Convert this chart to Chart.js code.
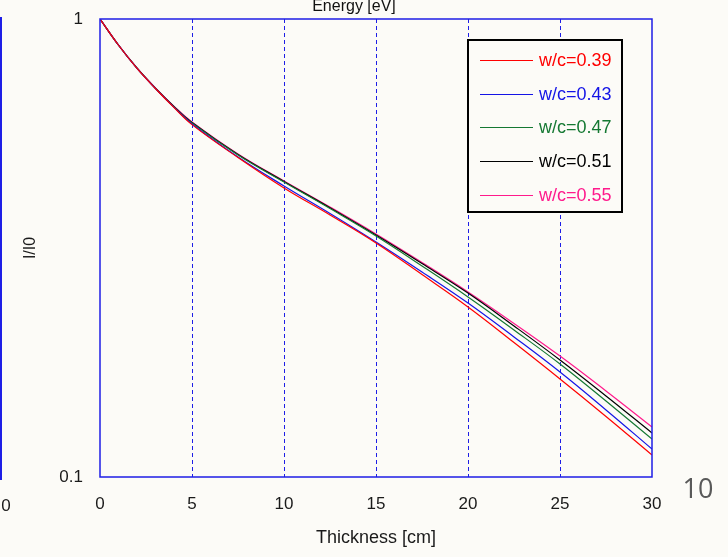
<!DOCTYPE html>
<html>
<head>
<meta charset="utf-8">
<script src="https://cdn.jsdelivr.net/npm/chart.js@4.4.1/dist/chart.umd.min.js"></script>
<style>
html,body{margin:0;padding:0;background:#fcfbf7;}
canvas{display:block;}
</style>
</head>
<body>
<canvas id="myChart" width="728" height="557"></canvas>
<script>
// thickness [cm] and transmitted fraction I/I0 for each w/c ratio
var thickness = [0, 1, 2, 3, 4, 5, 7.5, 10, 12.5, 15, 17.5, 20, 22.5, 25, 27.5, 30];
var wc039 = [1, 0.8775, 0.781, 0.706, 0.642, 0.588, 0.4984, 0.4276, 0.3733, 0.3243, 0.2767, 0.2351, 0.1966, 0.1637, 0.1356, 0.1117];
var wc043 = [1, 0.8775, 0.781, 0.706, 0.643, 0.590, 0.4997, 0.4319, 0.3761, 0.3259, 0.2803, 0.2398, 0.2022, 0.1695, 0.1401, 0.1151];
var wc047 = [1, 0.8775, 0.782, 0.707, 0.644, 0.5928, 0.5048, 0.4407, 0.3856, 0.3359, 0.2889, 0.2472, 0.2094, 0.1765, 0.1465, 0.1211];
var wc051 = [1, 0.8775, 0.782, 0.707, 0.645, 0.5943, 0.5060, 0.4418, 0.3871, 0.3376, 0.2925, 0.2522, 0.2137, 0.1801, 0.1503, 0.1248];
var wc055 = [1, 0.878, 0.783, 0.708, 0.646, 0.5958, 0.5072, 0.4429, 0.3886, 0.3393, 0.2940, 0.2535, 0.2164, 0.1837, 0.1541, 0.1286];

var seriesLabels = ['w/c=0.39', 'w/c=0.43', 'w/c=0.47', 'w/c=0.51', 'w/c=0.55'];
var seriesValues = [wc039, wc043, wc047, wc051, wc055];
var seriesColors = ['#ff0000', '#1414e6', '#147832', '#000000', '#ff1a8c'];

var xTickValues = [0, 5, 10, 15, 20, 25, 30];
var yTickValues = [0.1, 1];

var topTitle = 'Energy [eV]';
var xTitle = 'Thickness [cm]';
var yTitle = 'I/I0';

var FONT = '"Liberation Sans", Arial, sans-serif';
var gridBlue = '#1e1ee6';

var datasets = [];
for (var i = 0; i < seriesLabels.length; i++) {
  var pts = [];
  for (var j = 0; j < thickness.length; j++) {
    pts.push({x: thickness[j], y: seriesValues[i][j]});
  }
  datasets.push({
    label: seriesLabels[i],
    data: pts,
    borderColor: seriesColors[i],
    borderWidth: 1.2,
    pointRadius: 0,
    fill: false,
    tension: 0.4
  });
}

// frame, legend box, cut-off title and the bits of the neighbouring slides
var extras = {
  id: 'extras',
  afterDatasetsDraw: function(chart) {
    var ctx = chart.ctx;
    var a = chart.chartArea;
    ctx.save();
    ctx.strokeStyle = gridBlue;
    ctx.lineWidth = 1.5;
    ctx.strokeRect(a.left, a.top, a.right - a.left, a.bottom - a.top);

    // legend
    var bx = 468, by = 40, bw = 154, bh = 172;
    ctx.fillStyle = '#fcfbf7';
    ctx.fillRect(bx, by, bw, bh);
    ctx.strokeStyle = '#000';
    ctx.lineWidth = 2;
    ctx.strokeRect(bx, by, bw, bh);
    ctx.font = '18px ' + FONT;
    ctx.textBaseline = 'middle';
    ctx.textAlign = 'left';
    var rows = [60, 94, 127, 161, 195];
    chart.data.datasets.forEach(function(ds, k) {
      ctx.strokeStyle = ds.borderColor;
      ctx.lineWidth = 1;
      ctx.beginPath();
      ctx.moveTo(480, rows[k] + 0.5);
      ctx.lineTo(533, rows[k] + 0.5);
      ctx.stroke();
      ctx.fillStyle = ds.borderColor;
      ctx.fillText(ds.label, 539, rows[k] + 1);
    });

    // title cut at the top of the picture
    ctx.fillStyle = '#111';
    ctx.font = '16px ' + FONT;
    ctx.textAlign = 'center';
    ctx.textBaseline = 'alphabetic';
    ctx.fillText(topTitle, 354, 11);

    // left neighbour
    ctx.strokeStyle = gridBlue;
    ctx.lineWidth = 2;
    ctx.beginPath();
    ctx.moveTo(1, 17);
    ctx.lineTo(1, 480);
    ctx.stroke();
    ctx.fillStyle = '#1a1a1a';
    ctx.font = '17px ' + FONT;
    ctx.textBaseline = 'middle';
    ctx.fillText('0', 6, 506);

    // page number on the right
    ctx.fillStyle = '#595959';
    ctx.font = '27px "Open Sans", sans-serif';
    ctx.fillText('10', 698, 490);
    ctx.restore();
  }
};

var ctx = document.getElementById('myChart');
var myChart = new Chart(ctx, {
  type: 'line',
  data: {datasets: datasets},
  plugins: [extras],
  options: {
    responsive: false,
    animation: false,
    layout: {padding: {top: 19, right: 76, bottom: 0, left: 0}},
    plugins: {
      legend: {display: false},
      tooltip: {enabled: false}
    },
    scales: {
      x: {
        type: 'linear',
        min: 0,
        max: 30,
        afterBuildTicks: function(scale) {
          scale.ticks = xTickValues.map(function(v) { return {value: v}; });
        },
        afterFit: function(scale) {
          scale.height = 80;
          scale.paddingLeft = 0;
          scale.paddingRight = 0;
        },
        grid: {
          color: function(c) {
            var v = c.tick ? c.tick.value : null;
            return (v === 0 || v === 30) ? 'rgba(0,0,0,0)' : gridBlue;
          },
          lineWidth: 1,
          drawTicks: false
        },
        border: {display: false, dash: [4, 3]},
        ticks: {
          color: '#1a1a1a',
          font: {family: FONT, size: 17},
          padding: 17,
          maxRotation: 0
        },
        title: {
          display: true,
          text: xTitle,
          color: '#1a1a1a',
          font: {family: FONT, size: 18},
          padding: {top: 0, bottom: 8}
        }
      },
      y: {
        type: 'logarithmic',
        min: 0.1,
        max: 1,
        afterBuildTicks: function(scale) {
          scale.ticks = yTickValues.map(function(v) { return {value: v}; });
        },
        afterFit: function(scale) {
          scale.width = 100;
          scale.paddingTop = 0;
          scale.paddingBottom = 0;
        },
        grid: {display: false, drawTicks: false},
        border: {display: false},
        ticks: {
          color: '#1a1a1a',
          font: {family: FONT, size: 17},
          padding: 17,
          callback: function(v) { return String(v); }
        },
        title: {
          display: true,
          text: yTitle,
          color: '#1a1a1a',
          font: {family: FONT, size: 16},
          padding: {top: 21, bottom: 0}
        }
      }
    }
  }
});
</script>
</body>
</html>
